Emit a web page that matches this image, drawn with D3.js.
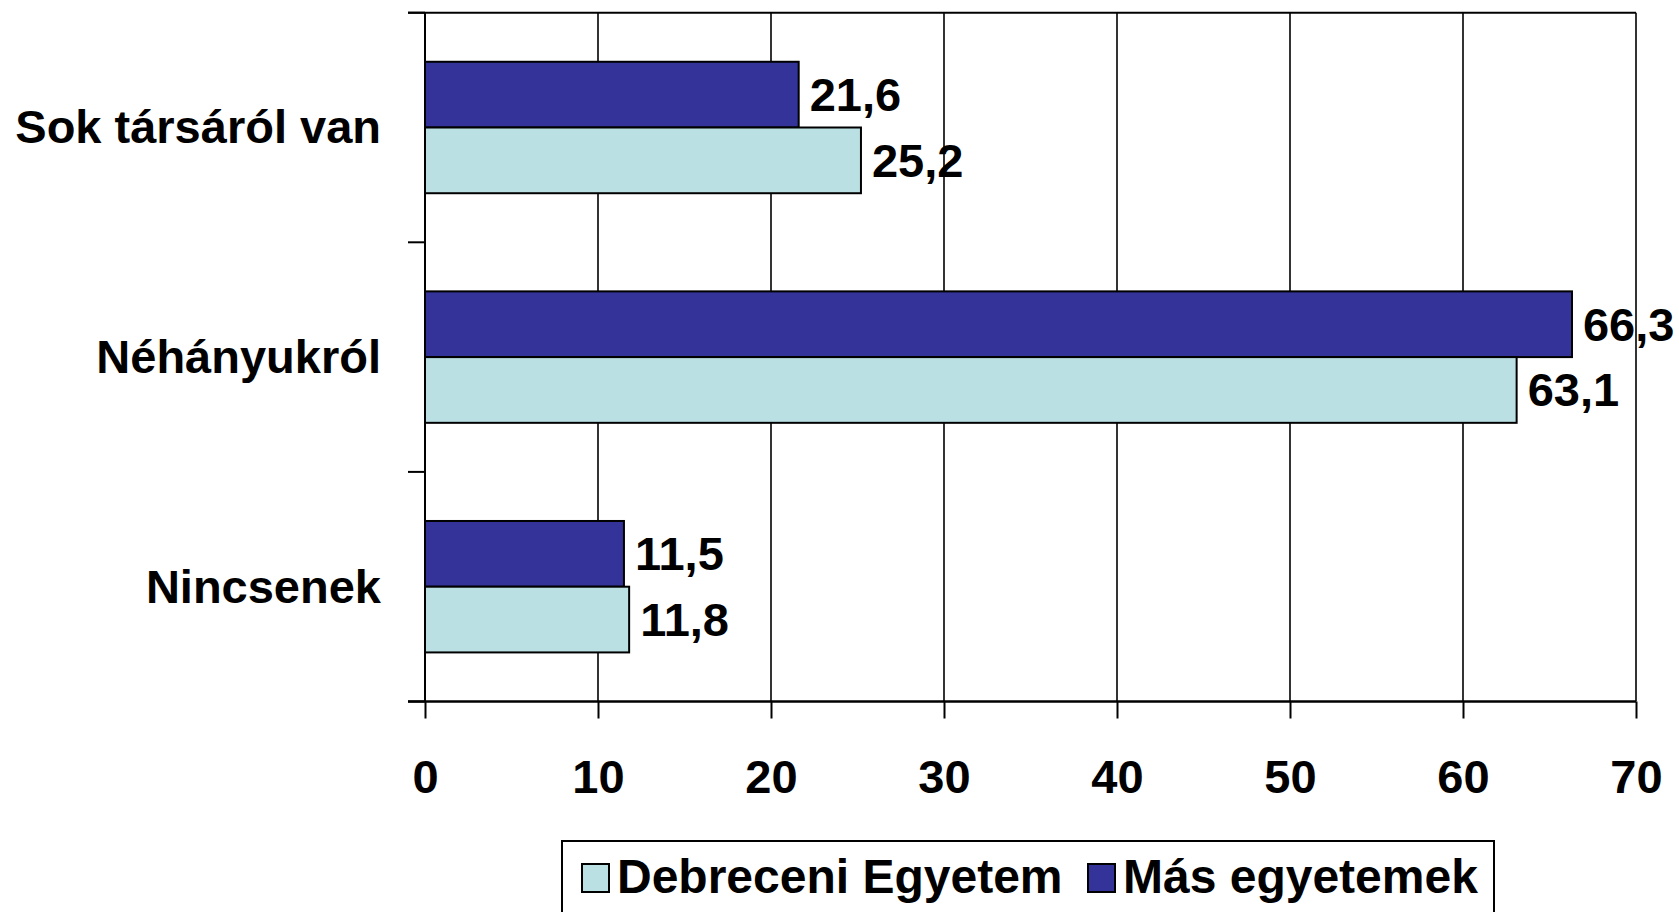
<!DOCTYPE html>
<html>
<head>
<meta charset="utf-8">
<script src="https://cdn.jsdelivr.net/npm/d3@7"></script>
<style>
  body { margin: 0; background: #fff; }
  svg text { font-family: "Liberation Sans", Arial, sans-serif; font-weight: bold; fill: #000; }
</style>
</head>
<body>
<svg width="1679" height="912"></svg>
<script>
var categories = ["Sok társáról van", "Néhányukról", "Nincsenek"];
var seriesNames = ["Más egyetemek", "Debreceni Egyetem"];
var masValues = [21.6, 66.3, 11.5];
var debreceniValues = [25.2, 63.1, 11.8];
var xTicks = [0, 10, 20, 30, 40, 50, 60, 70];
var colors = { "Más egyetemek": "#333399", "Debreceni Egyetem": "#bae0e3" };

var svg = d3.select("svg");
var plotLeft = 425, plotRight = 1636, plotTop = 12.7, plotBottom = 701.5;
var fontSize = 47;

var x = d3.scaleLinear().domain([0, 70]).range([plotLeft, plotRight]);
var y = d3.scaleBand().domain(categories).range([plotTop, plotBottom])
    .paddingInner(0.4275).paddingOuter(0.21375);
var ySub = d3.scaleBand().domain(seriesNames).range([0, y.bandwidth()]);

var rows = categories.map(function (c, i) {
    return { cat: c, values: [
        { name: "Más egyetemek", v: masValues[i] },
        { name: "Debreceni Egyetem", v: debreceniValues[i] }
    ] };
});

// gridlines
svg.append("g").selectAll("line")
    .data(xTicks.slice(1))
    .enter().append("line")
    .attr("x1", d => x(d)).attr("x2", d => x(d))
    .attr("y1", plotTop).attr("y2", plotBottom)
    .attr("stroke", "#000").attr("stroke-width", 1.6);

// top border
svg.append("line")
    .attr("x1", 408).attr("x2", plotRight)
    .attr("y1", plotTop).attr("y2", plotTop)
    .attr("stroke", "#000").attr("stroke-width", 2);

// bars
var groups = svg.append("g").selectAll("g")
    .data(rows)
    .enter().append("g")
    .attr("transform", d => "translate(0," + y(d.cat) + ")");

groups.selectAll("rect")
    .data(d => d.values)
    .enter().append("rect")
    .attr("x", x(0))
    .attr("y", d => ySub(d.name))
    .attr("width", d => x(d.v) - x(0))
    .attr("height", ySub.bandwidth())
    .attr("fill", d => colors[d.name])
    .attr("stroke", "#000").attr("stroke-width", 2);

groups.selectAll("text")
    .data(d => d.values)
    .enter().append("text")
    .attr("x", d => x(d.v) + 11)
    .attr("y", d => ySub(d.name) + ySub.bandwidth() / 2)
    .attr("dy", "0.35em")
    .style("font-size", fontSize + "px")
    .text(d => d.v.toFixed(1).replace(".", ","));

// category axis
svg.append("line")
    .attr("x1", plotLeft).attr("x2", plotLeft)
    .attr("y1", plotTop).attr("y2", plotBottom)
    .attr("stroke", "#000").attr("stroke-width", 2);

svg.append("g").selectAll("line")
    .data(d3.range(categories.length + 1))
    .enter().append("line")
    .attr("x1", 408).attr("x2", plotLeft)
    .attr("y1", i => plotTop + i * y.step()).attr("y2", i => plotTop + i * y.step())
    .attr("stroke", "#000").attr("stroke-width", 2);

svg.append("g").selectAll("text")
    .data(categories)
    .enter().append("text")
    .attr("x", 381)
    .attr("y", d => y(d) + y.bandwidth() / 2)
    .attr("dy", "0.34em")
    .attr("text-anchor", "end")
    .style("font-size", fontSize + "px")
    .text(d => d);

// value axis
var xAxis = d3.axisBottom(x)
    .tickValues(xTicks)
    .tickSize(17)
    .tickPadding(41)
    .tickFormat(d3.format("d"));

var gx = svg.append("g")
    .attr("transform", "translate(0," + plotBottom + ")")
    .call(xAxis);
gx.select(".domain").remove();
gx.selectAll(".tick line").attr("stroke", "#000").attr("stroke-width", 2);
gx.selectAll(".tick text")
    .attr("font-family", null)
    .style("font-size", fontSize + "px");
gx.append("line")
    .attr("x1", 408).attr("x2", plotRight)
    .attr("stroke", "#000").attr("stroke-width", 2.4);

// legend
var legend = svg.append("g");
legend.append("rect")
    .attr("x", 562).attr("y", 841)
    .attr("width", 932).attr("height", 90)
    .attr("fill", "#fff").attr("stroke", "#000").attr("stroke-width", 2);

var legendItems = [
    { name: "Debreceni Egyetem", x: 582 },
    { name: "Más egyetemek", x: 1088 }
];
var li = legend.selectAll("g.item")
    .data(legendItems)
    .enter().append("g")
    .attr("class", "item")
    .attr("transform", d => "translate(" + d.x + ",0)");
li.append("rect")
    .attr("x", 0).attr("y", 864)
    .attr("width", 27).attr("height", 28)
    .attr("fill", d => colors[d.name])
    .attr("stroke", "#000").attr("stroke-width", 2);
li.append("text")
    .attr("x", 35).attr("y", 893)
    .style("font-size", "48px")
    .text(d => d.name);
</script>
</body>
</html>
